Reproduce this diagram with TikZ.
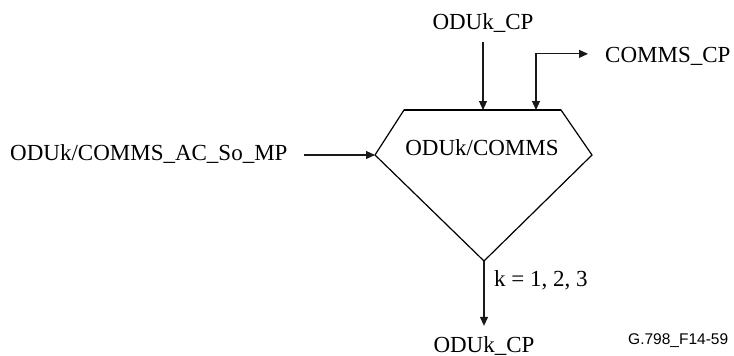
\documentclass[tikz,border=0pt]{standalone}
\usepackage{fontspec}
\setmainfont{Liberation Serif}
\setsansfont{Liberation Sans}
\usepackage{tikz}
\usetikzlibrary{arrows.meta, positioning, calc}
\tikzset{
    signal/.style={font=\fontsize{23}{27}\selectfont, inner sep=0pt},
    figref/.style={font=\sffamily\fontsize{15.5}{18}\selectfont, inner sep=0pt},
    fnshape/.style={line width=1.2pt, color=black, line join=miter},
    arrow/.style={line width=1.1pt, -{Triangle[length=9pt,width=8pt]}, color=black!90},
    biarrow/.style={arrow, {Triangle[length=9pt,width=8pt]}-{Triangle[length=9pt,width=8pt]}}
}
\begin{document}
\begin{tikzpicture}[x=1pt, y=-1pt]
    \useasboundingbox (0,0) rectangle (734,356);
    % Function shape
    \coordinate (tl) at (404,110);
    \coordinate (tr) at (561,110);
    \coordinate (rp) at (592,155);
    \coordinate (bp) at (484,261);
    \coordinate (lp) at (375,155);
    \draw [fnshape] (lp) -- (tl) -- (tr) -- (rp) -- (bp) -- cycle;
    \draw [fnshape, line width=1.5pt] (tl) -- (tr);
    \node (fn) [signal, anchor=base] at (482,155) {ODUk/COMMS};
    \coordinate (in1) at (483,110);
    \coordinate (in2) at (536,110);

    % Nodes
    \node (cptop) [signal, anchor=base] at (483,30) {ODUk\_CP};
    \node (commscp) [signal, anchor=base west] at (605,62) {COMMS\_CP};
    \node (acsomp) [signal, anchor=base west] at (10,160) {ODUk/COMMS\_AC\_So\_MP};
    \node (kval) [signal, anchor=base west] at (494,286) {k = 1, 2, 3};
    \node (cpbot) [signal, anchor=base] at (484,352) {ODUk\_CP};
    \node (figid) [figref, anchor=base west] at (628,344) {G.798\_F14-59};

    % Arrows
    \draw [arrow] ([yshift=-9pt]cptop.south) -- (in1);
    \draw [biarrow] (in2) |- ([xshift=-17pt,yshift=2pt]commscp.west);
    \draw [arrow] ([xshift=16pt]acsomp.east |- lp) -- (lp);
    \draw [arrow] (bp) -- ([yshift=10pt]cpbot.north);
\end{tikzpicture}
\end{document}
